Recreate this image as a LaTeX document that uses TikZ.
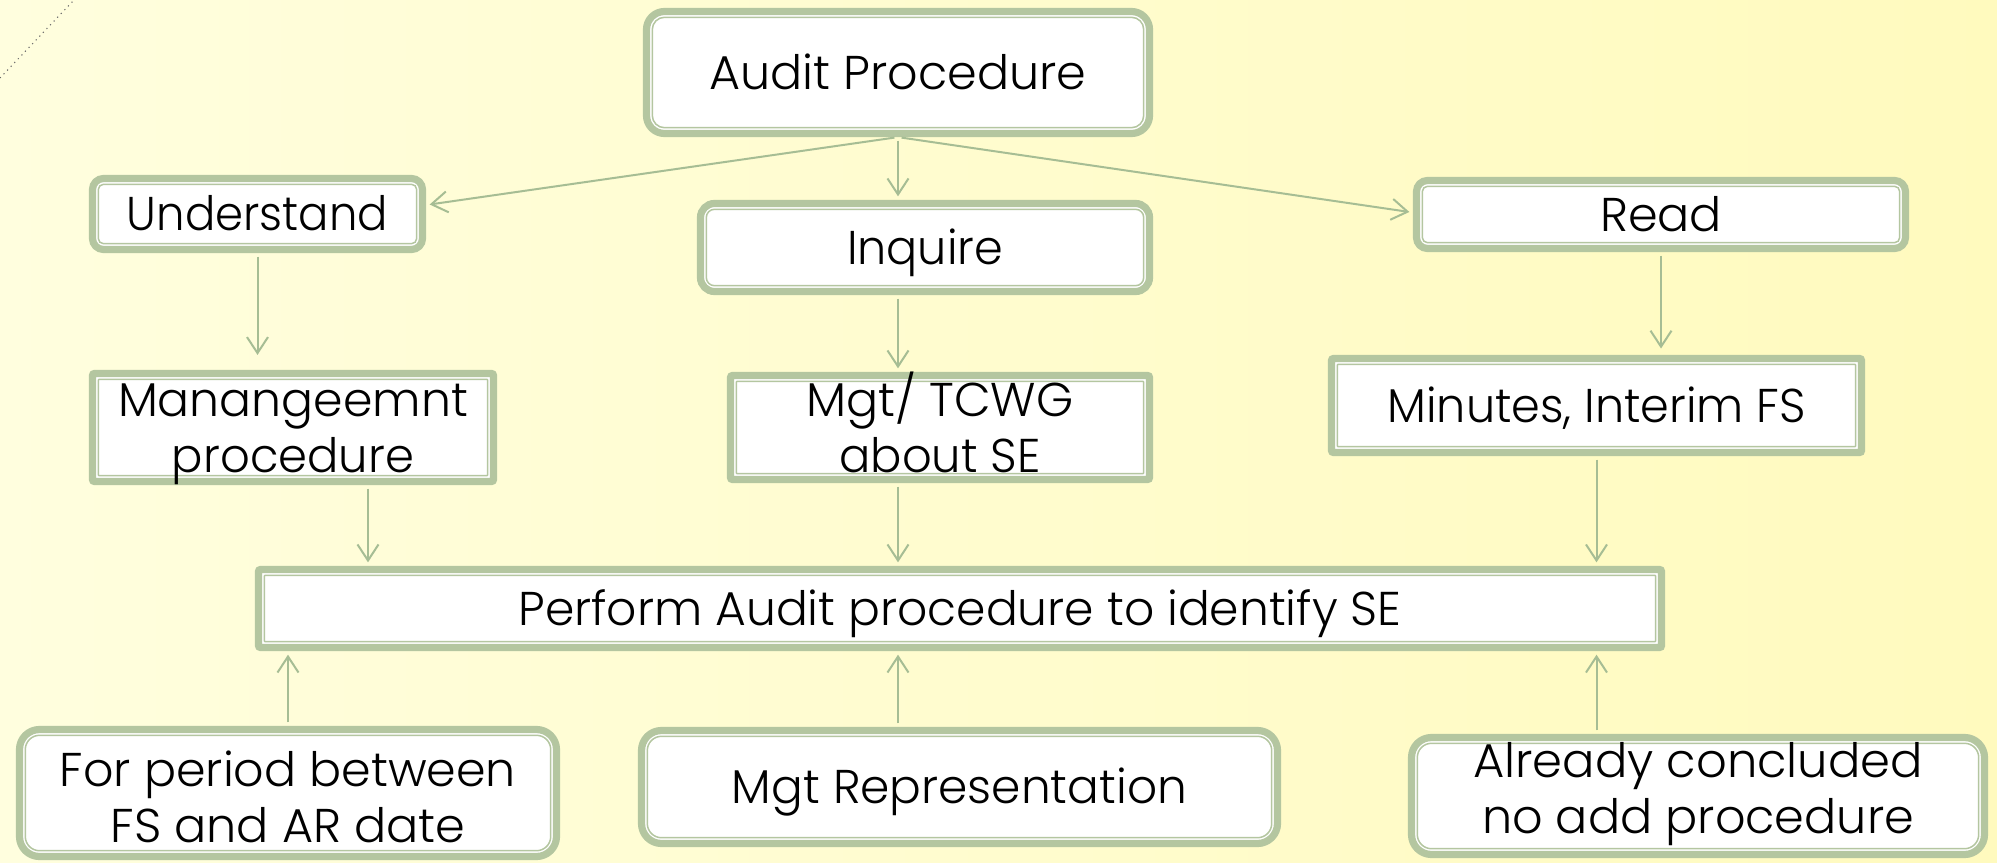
\documentclass[tikz,border=0pt]{standalone}
\usepackage{fontspec}
\setmainfont{Poppins Light}
\usepackage{graphicx}
\usetikzlibrary{arrows.meta}
\definecolor{gr}{RGB}{180,198,160}
\definecolor{ar}{RGB}{166,189,148}
\definecolor{bgl}{RGB}{255,254,222}
\definecolor{bgm}{RGB}{255,255,246}
\definecolor{bgr}{RGB}{255,250,190}
\newlength\lsep
\setlength\lsep{28pt}
\newcommand\boxfont{\fontsize{23.7pt}{28pt}\selectfont}
\newcommand\oneL[3][0pt]{\raisebox{#1}[\fontcharht\font`H][0pt]{\resizebox{#2}{\height}{#3}}}
\newcommand\twoL[5][0pt]{\raisebox{#1}[\dimexpr\fontcharht\font`H+\lsep\relax][0pt]{\vbox{\baselineskip=\lsep\lineskiplimit=-\maxdimen\halign{\hfil##\hfil\cr\resizebox{#2}{\height}{#3}\cr\resizebox{#4}{\height}{#5}\cr}}}}
\begin{document}
\begin{tikzpicture}[x=0.5pt,y=-0.5pt,
  gbox/.style={draw=gr, line width=3.6pt, fill=white, inner sep=0pt, font=\boxfont,
    rounded corners=#1,
    path picture={\draw[gr,line width=0.75pt,rounded corners={max(#1-2.9pt,0.4pt)}]
      ([shift={(2.9pt,-2.9pt)}]path picture bounding box.north west) rectangle
      ([shift={(-2.9pt,2.9pt)}]path picture bounding box.south east);}},
  conn/.style={draw=ar, line width=1pt, -{Straight Barb[length=8pt,width=10.5pt]},
    shorten <=1.8pt, shorten >=1.8pt}]
\useasboundingbox (0,0) rectangle (1997,862);
\shade[left color=bgl, middle color=bgm, right color=bgr, shading angle=90] (0,0) rectangle (1997,862);
\draw[black!60, line width=0.5pt, dash pattern=on 0.6pt off 2pt] (0,78) -- (74,0);

\node[gbox=9pt, minimum width=251.5pt, minimum height=61pt] (A) at (898,72.5) {\oneL{188.5pt}{Audit Procedure}};
\node[gbox=5.5pt, minimum width=165pt, minimum height=35.5pt] (U) at (257.5,214) {\oneL{130.5pt}{Understand}};
\node[gbox=7pt, minimum width=224.5pt, minimum height=44pt] (I) at (925,247.5) {\oneL{78pt}{Inquire}};
\node[gbox=5.5pt, minimum width=244.5pt, minimum height=34pt] (R) at (1661,214.5) {\oneL{61pt}{Read}};
\node[gbox=1pt, minimum width=200.5pt, minimum height=54pt] (M) at (293,427.5) {\twoL{175pt}{Manangeemnt}{121pt}{procedure}};
\node[gbox=1pt, minimum width=209.5pt, minimum height=52pt] (T) at (940,427.5) {\twoL{133.5pt}{Mgt/ TCWG}{100.5pt}{about SE}};
\node[gbox=1pt, minimum width=265pt, minimum height=47pt] (N) at (1596.5,405.5) {\oneL{209pt}{Minutes, Interim FS}};
\node[gbox=1pt, minimum width=701.5pt, minimum height=39pt] (P) at (960,608.5) {\oneL{441.5pt}{Perform Audit procedure to identify SE}};
\node[gbox=10pt, minimum width=268.5pt, minimum height=63.5pt] (F) at (288,793) {\twoL[-2.5pt]{228pt}{For period between}{177.5pt}{FS and AR date}};
\node[gbox=10pt, minimum width=318pt, minimum height=56.5pt] (G) at (959.5,787) {\oneL{227.5pt}{Mgt Representation}};
\node[gbox=10pt, minimum width=286.5pt, minimum height=58.5pt] (K) at (1698,796) {\twoL[3.5pt]{225pt}{Already concluded}{216pt}{no add procedure}};

\coordinate (mx) at ([xshift=37.5pt]M.south);
\draw[conn] (A.south) -- ([yshift=4.5pt]U.east);
\draw[conn] (A.south) -- ([yshift=1pt]R.west);
\draw[conn] (A.south) -- (A.south |- I.north);
\draw[conn, shorten >=7.5pt] (U.south) -- (U.south |- M.north);
\draw[conn] (A.south |- I.south) -- (A.south |- T.north);
\draw[conn, shorten >=3.2pt] (R.south) -- (R.south |- N.north);
\draw[conn] (mx) -- (mx |- P.north);
\draw[conn] (A.south |- T.south) -- (A.south |- P.north);
\draw[conn] (N.south) -- (N.south |- P.north);
\draw[conn] (F.north) -- (F.north |- P.south);
\draw[conn] (A.south |- G.north) -- (A.south |- P.south);
\draw[conn] (N.south |- K.north) -- (N.south |- P.south);
\end{tikzpicture}
\end{document}
